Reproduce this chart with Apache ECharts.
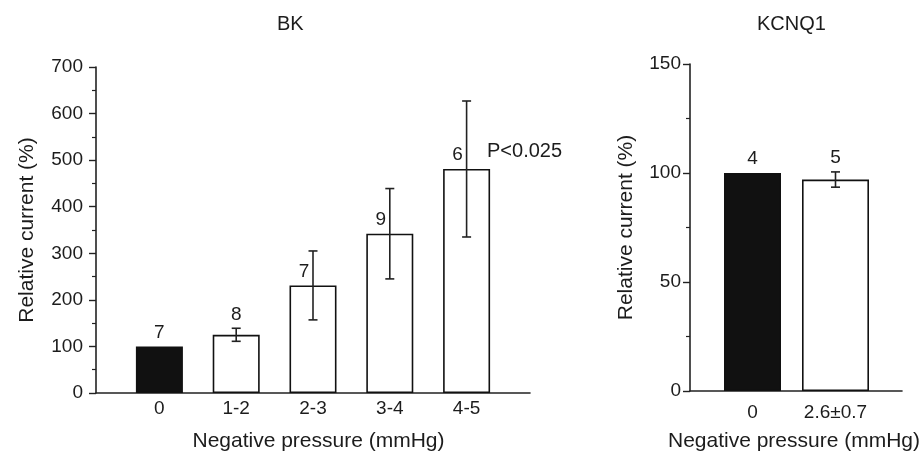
<!DOCTYPE html>
<html>
<head>
<meta charset="utf-8">
<script src="https://cdn.jsdelivr.net/npm/echarts@6/dist/echarts.min.js"></script>
<style>
  html, body { margin: 0; padding: 0; background: #ffffff; }
  #chart { width: 923px; height: 455px; }
</style>
</head>
<body>
<div id="chart"></div>
<script>
// ---- Data ----
const bkTitle = 'BK';
const bkCategories = ['0', '1-2', '2-3', '3-4', '4-5'];
const bkMeans = [100, 125, 231, 342, 481];
const bkErrors = [null, 14, 74, 97, 146];
const bkN = [7, 8, 7, 9, 6];
const bkSignificance = 'P<0.025';
const bkYMin = 0, bkYMax = 700, bkYInterval = 100;

const kcnqTitle = 'KCNQ1';
const kcnqCategories = ['0', '2.6±0.7'];
const kcnqMeans = [100, 97];
const kcnqErrors = [null, 3.5];
const kcnqN = [4, 5];
const kcnqYMin = 0, kcnqYMax = 150, kcnqYInterval = 50;

const xName = 'Negative pressure (mmHg)';
const yName = 'Relative current (%)';

// ---- Styles ----
const FONT = '"Liberation Sans", Arial, Helvetica, sans-serif';
const INK = '#1c1c1c';
const AXIS = '#222222';

function frameX(gridIndex) {
  return {
    gridIndex, type: 'value', min: 0, max: 1,
    axisLine: { show: true, onZero: false, lineStyle: { color: AXIS, width: 1.6 } },
    axisTick: { show: false }, axisLabel: { show: false }, splitLine: { show: false }
  };
}
function frameY(gridIndex, min, max, interval, margin, nameGap) {
  return {
    gridIndex, type: 'value', min, max, interval,
    name: yName, nameLocation: 'middle', nameGap,
    nameTextStyle: { fontSize: 21, color: INK, fontFamily: FONT },
    axisLine: { show: true, onZero: false, lineStyle: { color: AXIS, width: 1.6 } },
    axisTick: { show: true, inside: false, length: 7, lineStyle: { color: AXIS, width: 1.4 } },
    minorTick: { show: true, splitNumber: 2, length: 4, lineStyle: { color: AXIS, width: 1.2 } },
    axisLabel: { fontSize: 19, color: INK, fontFamily: FONT, margin },
    splitLine: { show: false }, minorSplitLine: { show: false }
  };
}
function catX(gridIndex, cats, visible, margin, nameGap, namePad) {
  if (!visible) {
    return { gridIndex, type: 'category', data: cats, show: false };
  }
  return {
    gridIndex, type: 'category', data: cats,
    name: xName, nameLocation: 'middle', nameGap,
    nameTextStyle: { fontSize: 21, color: INK, fontFamily: FONT, padding: namePad },
    axisLine: { show: false }, axisTick: { show: false },
    axisLabel: { fontSize: 19, color: INK, fontFamily: FONT, margin, interval: 0 },
    splitLine: { show: false }
  };
}
function hiddenY(gridIndex, min, max) {
  return { gridIndex, type: 'value', min, max, show: false, splitLine: { show: false } };
}

function barSeries(xAxisIndex, yAxisIndex, means, isControl, width) {
  return {
    type: 'bar', xAxisIndex, yAxisIndex, barWidth: width,
    data: means.map((v, i) => ((i === 0) === isControl ? v : '-')),
    itemStyle: {
      color: isControl ? '#111111' : '#ffffff',
      borderColor: '#111111', borderWidth: 1.6
    },
    emphasis: { disabled: true }, silent: true, z: 2
  };
}

function errorSeries(xAxisIndex, yAxisIndex, means, errors, ns) {
  return {
    type: 'custom', xAxisIndex, yAxisIndex, z: 5, silent: true, clip: false,
    encode: { x: 0, y: 1 },
    data: means.map((m, i) => [i, m, errors[i] == null ? 0 : errors[i], ns[i]]),
    renderItem: function (params, api) {
      const xi = api.value(0), mean = api.value(1), err = api.value(2), n = api.value(3);
      const base = api.coord([xi, mean]);
      const children = [];
      let lx = base[0], ly = base[1];
      if (err > 0) {
        const top = api.coord([xi, mean + err]);
        const bot = api.coord([xi, mean - err]);
        const cap = 4.5;
        const ls = { stroke: AXIS, lineWidth: 1.6 };
        children.push({ type: 'line', shape: { x1: top[0], y1: top[1], x2: bot[0], y2: bot[1] }, style: ls });
        children.push({ type: 'line', shape: { x1: top[0] - cap, y1: top[1], x2: top[0] + cap, y2: top[1] }, style: ls });
        children.push({ type: 'line', shape: { x1: bot[0] - cap, y1: bot[1], x2: bot[0] + cap, y2: bot[1] }, style: ls });
        const errPx = base[1] - top[1];
        if (errPx > 20) { lx = base[0] - 9; ly = base[1]; } else { ly = top[1]; }
      }
      children.push({
        type: 'text',
        style: { x: lx, y: ly - 14, text: String(n), align: 'center', verticalAlign: 'middle',
                 fontSize: 19, fill: INK, fontFamily: FONT }
      });
      return { type: 'group', children };
    }
  };
}

const option = {
  backgroundColor: '#ffffff',
  animation: false,
  title: [
    { text: bkTitle, left: 277, top: 14, padding: 0,
      textStyle: { fontSize: 20, fontWeight: 'normal', color: INK, fontFamily: FONT } },
    { text: kcnqTitle, left: 757, top: 14, padding: 0,
      textStyle: { fontSize: 20, fontWeight: 'normal', color: INK, fontFamily: FONT } }
  ],
  grid: [
    { left: 96, top: 67, width: 434, height: 326, outerBoundsMode: 'none', containLabel: false },
    { left: 121, top: 67, width: 384, height: 326, outerBoundsMode: 'none', containLabel: false },
    { left: 690, top: 64, width: 212, height: 327, outerBoundsMode: 'none', containLabel: false },
    { left: 711, top: 64, width: 166, height: 327, outerBoundsMode: 'none', containLabel: false }
  ],
  xAxis: [
    frameX(0),
    catX(1, bkCategories, true, 6, 38, [0, 0, 0, 11]),
    catX(1, bkCategories, false),
    frameX(2),
    catX(3, kcnqCategories, true, 12, 40, [0, 0, 0, 0]),
    catX(3, kcnqCategories, false)
  ],
  yAxis: [
    frameY(0, bkYMin, bkYMax, bkYInterval, 13, 58),
    hiddenY(1, bkYMin, bkYMax),
    frameY(2, kcnqYMin, kcnqYMax, kcnqYInterval, 9, 53),
    hiddenY(3, kcnqYMin, kcnqYMax)
  ],
  graphic: [
    { type: 'text', left: 487, top: 141, silent: true,
      style: { text: bkSignificance, fontSize: 20, fill: INK, fontFamily: FONT } }
  ],
  series: [
    barSeries(1, 1, bkMeans, true, 47),
    barSeries(2, 1, bkMeans, false, 47),
    errorSeries(1, 1, bkMeans, bkErrors, bkN),
    barSeries(4, 3, kcnqMeans, true, 57),
    barSeries(5, 3, kcnqMeans, false, 67),
    errorSeries(4, 3, kcnqMeans, kcnqErrors, kcnqN)
  ]
};

const chart = echarts.init(document.getElementById('chart'), null, { renderer: 'canvas' });
chart.setOption(option);
</script>
</body>
</html>
